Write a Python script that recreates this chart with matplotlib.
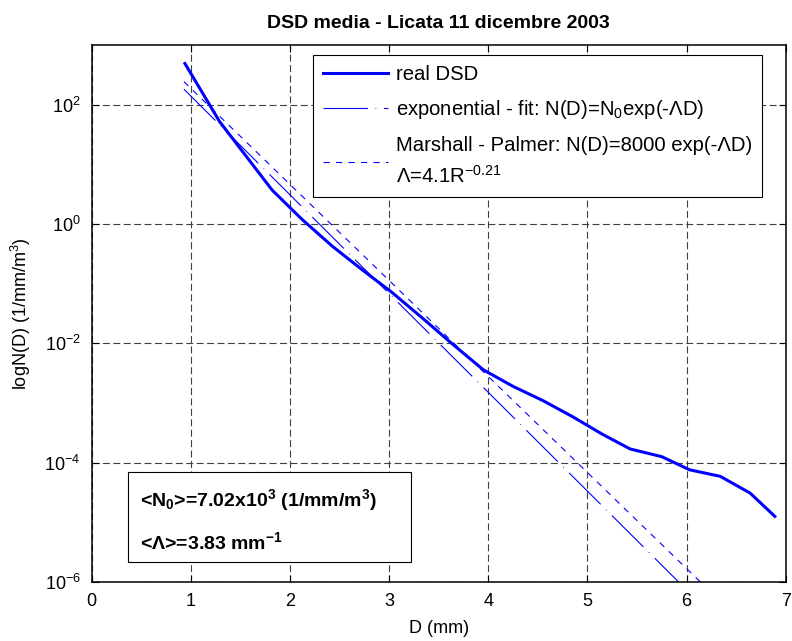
import matplotlib
matplotlib.use('Agg')
import matplotlib.pyplot as plt
from matplotlib.patches import Rectangle
from matplotlib.ticker import LogFormatterSciNotation, NullLocator

# diametri medi delle classi (mm) e concentrazione media misurata (1/mm/m^3)
D_real = [0.94, 1.29, 1.82, 2.12, 2.43, 2.73, 3.03, 3.33, 3.63, 3.95,
          4.25, 4.55, 4.85, 5.15, 5.43, 5.75, 6.03, 6.34, 6.64, 6.89]
N_real = [490, 52, 3.7, 1.2, 0.42, 0.17, 0.071, 0.027, 0.010, 3.6e-3,
          1.9e-3, 1.1e-3, 5.9e-4, 3.0e-4, 1.7e-4, 1.26e-4, 7.6e-5, 5.9e-5, 3.1e-5, 1.26e-5]

# rette (in scala log) del fit esponenziale e di Marshall-Palmer
D_fit = [0.93, 5.92]
N_fit = [182, 1.0e-6]
D_mp = [0.93, 6.14]
N_mp = [243, 1.0e-6]

x_ticks = [0, 1, 2, 3, 4, 5, 6, 7]
y_ticks = [1e-6, 1e-4, 1e-2, 1e0, 1e2]

plt.rcParams['font.family'] = ['Liberation Sans', 'DejaVu Sans']
plt.rcParams['mathtext.fontset'] = 'custom'
plt.rcParams['mathtext.rm'] = 'Liberation Sans'
plt.rcParams['mathtext.it'] = 'Liberation Sans:italic'
plt.rcParams['mathtext.bf'] = 'Liberation Sans:bold'
plt.rcParams['axes.unicode_minus'] = False
plt.rcParams['lines.scale_dashes'] = False

fig = plt.figure(figsize=(7.92, 6.41), dpi=100)
ax = fig.add_axes([0.1158, 0.092, 0.8763, 0.8378])

ax.plot(D_real, N_real, color='#0000ff', linewidth=2.2, label='real DSD')
ax.plot(D_fit, N_fit, color='#0000ff', linewidth=0.8,
        linestyle=(0, (32, 5.5, 0.5, 5.5)),
        label='exponential - fit: N(D)=N$_0$exp(-ΛD)')
ax.plot(D_mp, N_mp, color='#0000ff', linewidth=0.8,
        linestyle=(0, (4.5, 4.5)),
        label='Marshall - Palmer: N(D)=8000 exp(-ΛD)\nΛ=4.1R$^{-0.21}$')

ax.set_yscale('log')
ax.set_xlim(0, 7)
ax.set_ylim(1e-6, 1e3)
ax.set_xticks(x_ticks)
ax.set_yticks(y_ticks)
ax.yaxis.set_major_formatter(LogFormatterSciNotation())
ax.yaxis.set_minor_locator(NullLocator())

ax.tick_params(direction='in', length=5, width=0.8, labelsize=13,
               top=True, right=True, pad=8)
for s in ax.spines.values():
    s.set_linewidth(1.1)

ax.grid(True, which='major', color='#404040', linewidth=0.8,
        linestyle=(0, (5, 2.5)))

ax.set_title('DSD media - Licata 11 dicembre 2003', fontsize=14,
             fontweight='bold', pad=12)
ax.set_xlabel('D (mm)', fontsize=13, labelpad=7)
ax.set_ylabel('logN(D) (1/mm/m$^3$)', fontsize=13, labelpad=8)

leg = ax.legend(loc='upper left', bbox_to_anchor=(0.3184, 0.9814),
                fontsize=14.6, frameon=True, fancybox=False,
                edgecolor='black', framealpha=1, handlelength=3.2,
                handletextpad=0.4, borderpad=0.5, labelspacing=0.7,
                borderaxespad=0)
leg.get_frame().set_linewidth(0.8)
leg.get_texts()[2].set_linespacing(1.6)

# riquadro con i parametri medi
ax.add_patch(Rectangle((0.0526, 0.0372), 0.4068, 0.1676, transform=ax.transAxes,
                       facecolor='white', edgecolor='black', linewidth=0.8,
                       zorder=5))
ax.text(0.07, 0.152, '<N$_\\mathbf{0}$>=7.02x10$^\\mathbf{3}$ (1/mm/m$^\\mathbf{3}$)',
        transform=ax.transAxes, fontsize=14, fontweight='bold',
        va='center', zorder=6)
ax.text(0.07, 0.074, '<Λ>=3.83 mm$^\\mathbf{-1}$', transform=ax.transAxes,
        fontsize=14, fontweight='bold', va='center', zorder=6)

fig.savefig('out.png', dpi=100)
